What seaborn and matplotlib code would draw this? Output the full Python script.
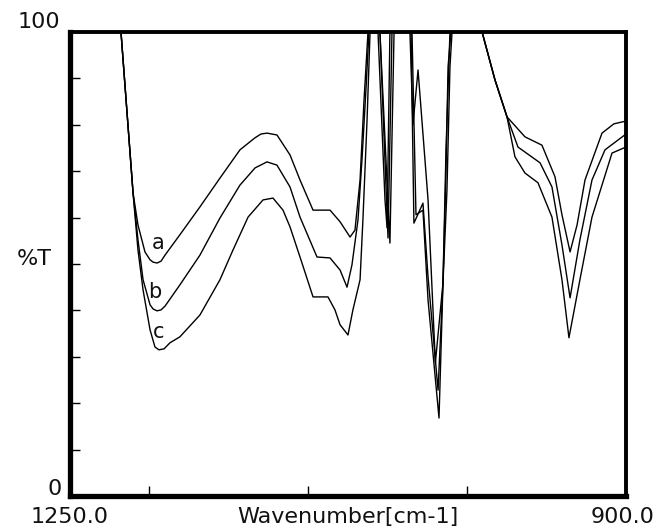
import numpy as np
import pandas as pd
import matplotlib
matplotlib.use('Agg')
import matplotlib.pyplot as plt
import seaborn as sns

# wavenumber (cm-1) and %T, per sample
wn_a = [1217.9, 1210.3, 1207.2, 1202.8, 1199.6, 1197.7, 1195.2, 1192.7, 1190.2, 1180.8,
        1168.2, 1155.6, 1143.0, 1133.5, 1129.8, 1126.0, 1119.7, 1111.5, 1105.2, 1097.0,
        1086.3, 1080.0, 1073.7, 1070.6, 1067.4, 1064.9, 1062.4, 1056.1, 1051.7, 1050.4,
        1048.6, 1036.0, 1034.1, 1030.9, 1024.6, 1020.0, 1015.2, 1013.3, 1010.8, 990.6,
        982.5, 974.9, 963.6, 952.9, 944.7, 940.3, 935.2, 930.8, 925.8, 915.1,
        907.6, 900.0]
t_a = [100, 65.3, 58.4, 52.6, 50.9, 50.4, 50.2, 50.6, 51.9, 56.3,
       62.3, 68.5, 74.6, 77.2, 78.0, 78.2, 77.8, 73.5, 68.1, 61.6,
       61.6, 59.1, 55.8, 57.3, 68.1, 85.3, 100, 100, 63.8, 57.8,
       100, 100, 80.0, 91.8, 63.8, 28.7, 45.9, 74.6, 100, 100,
       89.7, 81.7, 77.4, 75.6, 68.8, 60.6, 52.6, 58.4, 68.1, 78.2,
       80.2, 80.8]

wn_b = [1217.9, 1210.3, 1207.2, 1204.0, 1199.6, 1197.7, 1195.2, 1192.7, 1190.2, 1180.8,
        1168.2, 1155.6, 1143.0, 1133.5, 1126.0, 1119.7, 1111.5, 1105.2, 1094.5, 1086.3,
        1080.0, 1075.6, 1072.5, 1068.7, 1066.2, 1063.7, 1061.8, 1054.9, 1049.8, 1047.3,
        1035.3, 1033.5, 1027.8, 1024.6, 1018.3, 1015.2, 1013.3, 1012.0, 1010.2, 990.6,
        982.5, 974.9, 968.0, 954.1, 946.6, 940.3, 935.2, 929.0, 921.4, 913.2,
        900.0]
t_b = [100, 65.3, 55.2, 46.6, 41.2, 40.3, 39.9, 40.1, 40.9, 45.5,
       51.9, 59.9, 67.0, 70.7, 72.0, 71.3, 66.6, 60.1, 51.5, 51.3,
       48.7, 45.0, 49.8, 59.5, 72.4, 87.5, 100, 100, 55.6, 100,
       100, 58.8, 63.1, 47.2, 22.8, 45.9, 70.3, 92.5, 100, 100,
       89.7, 81.7, 75.2, 71.8, 66.6, 54.1, 42.7, 55.2, 68.1, 74.6,
       78.0]

wn_c = [1217.9, 1210.3, 1207.2, 1204.0, 1199.6, 1196.5, 1194.0, 1190.8, 1187.1, 1180.8,
        1168.2, 1155.6, 1147.4, 1137.9, 1128.5, 1122.2, 1115.9, 1111.5, 1105.2, 1097.0,
        1087.6, 1083.2, 1080.0, 1075.0, 1071.9, 1067.4, 1065.6, 1063.0, 1061.1, 1054.9,
        1048.6, 1046.0, 1034.7, 1032.2, 1027.8, 1024.6, 1017.7, 1015.2, 1012.7, 1010.8,
        1009.5, 990.6, 982.5, 974.9, 969.9, 963.6, 955.4, 946.6, 940.3, 935.9,
        929.0, 921.4, 908.8, 900.0]
t_c = [100, 65.3, 53.0, 44.4, 35.8, 32.1, 31.5, 31.7, 33.0, 34.3,
       39.0, 46.6, 53.0, 60.1, 63.8, 64.2, 61.6, 58.0, 51.5, 42.9,
       42.9, 40.1, 36.9, 34.7, 40.1, 46.6, 59.5, 81.0, 100, 100,
       54.5, 100, 100, 60.6, 61.6, 42.2, 16.8, 45.9, 65.9, 92.5,
       100, 100, 89.7, 81.7, 73.1, 69.6, 67.5, 60.1, 46.6, 34.1,
       46.6, 60.1, 73.9, 75.2]

samples = ['a', 'b', 'c']
label_wn = [1194.6, 1196.5, 1194.0]
label_t = [54.5, 44.0, 35.3]

df = pd.concat([
    pd.DataFrame({'wn': wn_a, 'T': t_a, 'sample': 'a'}),
    pd.DataFrame({'wn': wn_b, 'T': t_b, 'sample': 'b'}),
    pd.DataFrame({'wn': wn_c, 'T': t_c, 'sample': 'c'}),
])

sns.set_style('white')
plt.rcParams['font.family'] = ['DejaVu Sans']

fig = plt.figure(figsize=(6.59, 5.30), dpi=100)
ax = fig.add_axes([0.1062, 0.0642, 0.8437, 0.8755])

sns.lineplot(data=df, x='wn', y='T', units='sample', estimator=None, sort=False,
             color='black', linewidth=1.0, ax=ax, legend=False)

ax.set_xlim(1250, 900)
ax.set_ylim(0, 100)

# curve labels
for s, x, y in zip(samples, label_wn, label_t):
    ax.text(x, y, s, fontsize=15, color='#111111', ha='center', va='center')

ax.set_xticks([1200, 1100, 1000])
ax.set_yticks(np.arange(10, 100, 10))
ax.set_xticklabels([])
ax.set_yticklabels([])
ax.tick_params(direction='in', length=7.5, width=1.0, color='black',
               bottom=True, left=True, top=False, right=False)
ax.set_xlabel('')
ax.set_ylabel('')

for side, lw in [('left', 3.8), ('bottom', 3.8), ('top', 2.8), ('right', 2.8)]:
    ax.spines[side].set_visible(True)
    ax.spines[side].set_color('black')
    ax.spines[side].set_linewidth(lw)

txt = dict(fontsize=16, color='#111111', transform=ax.transAxes)
ax.text(-0.018, 1.022, '100', ha='right', va='center', **txt)
ax.text(-0.014, 0.015, '0', ha='right', va='center', **txt)
ax.text(-0.032, 0.511, '%T', ha='right', va='center', **txt)
ax.text(0.0, -0.045, '1250.0', ha='center', va='center', **txt)
ax.text(0.993, -0.045, '900.0', ha='center', va='center', **txt)
ax.text(0.5, -0.045, 'Wavenumber[cm-1]', ha='center', va='center', **txt)

fig.savefig('out.png', dpi=100)
